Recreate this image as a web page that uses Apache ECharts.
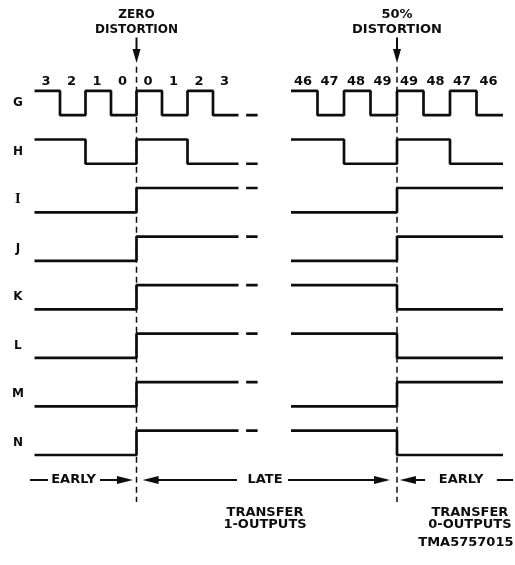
<!DOCTYPE html>
<html><head><meta charset="utf-8">
<script src="https://cdn.jsdelivr.net/npm/echarts@6/dist/echarts.min.js"></script>
<style>html,body{margin:0;padding:0;background:#fff}#c{width:515px;height:565px}</style>
</head><body><div id="c"></div>
<script>
// ---- data ----
const rowNames = ['G','H','I','J','K','L','M','N'];
const leftTicks = ['3','2','1','0','0','1','2','3'];
const rightTicks = ['46','47','48','49','49','48','47','46'];
// zero-distortion panel: logic level per time slot
const leftG = [1,0,1,0,1,0,1,0];
const leftH = [1,1,0,0,1,1,0,0];
const leftI = [0,0,0,0,1,1,1,1];
const leftJ = [0,0,0,0,1,1,1,1];
const leftK = [0,0,0,0,1,1,1,1];
const leftL = [0,0,0,0,1,1,1,1];
const leftM = [0,0,0,0,1,1,1,1];
const leftN = [0,0,0,0,1,1,1,1];
// 50% distortion panel
const rightG = [1,0,1,0,1,0,1,0];
const rightH = [1,1,0,0,1,1,0,0];
const rightI = [0,0,0,0,1,1,1,1];
const rightJ = [0,0,0,0,1,1,1,1];
const rightK = [1,1,1,1,0,0,0,0];
const rightL = [1,1,1,1,0,0,0,0];
const rightM = [0,0,0,0,1,1,1,1];
const rightN = [1,1,1,1,0,0,0,0];
const sampleSlot = 4;

const leftRows = [leftG,leftH,leftI,leftJ,leftK,leftL,leftM,leftN];
const rightRows = [rightG,rightH,rightI,rightJ,rightK,rightL,rightM,rightN];

// ---- layout / style ----
const INK = '#0d0d0d';
const FONT = 'DejaVu Sans';
const PXX_L = 25.5, PXX_R = 26.5, PXY = 24.27;
const rowBase = r => (7 - r) * 2;
const series = [];

function seg(grid, pts, width, type) {
  series.push({type:'line', xAxisIndex:grid, yAxisIndex:grid, data:pts, symbol:'none',
    silent:true, animation:false,
    lineStyle:{color:INK, width:width, type:type||'solid', opacity:1}});
}
function wave(levels, r, grid) {
  const b = rowBase(r);
  const d = levels.map((l,i)=>[i, b+l]);
  d.push([levels.length, b+levels[levels.length-1]]);
  series.push({type:'line', xAxisIndex:grid, yAxisIndex:grid, data:d, step:'end', symbol:'none',
    silent:true, animation:false, lineStyle:{color:INK, width:2.7, opacity:1}});
}
function head(grid, x, y, rot, w, h) {
  series.push({type:'scatter', xAxisIndex:grid, yAxisIndex:grid, data:[[x,y]], symbol:'triangle',
    symbolSize:[w,h], symbolRotate:rot, silent:true, animation:false,
    itemStyle:{color:INK, opacity:1}});
}
function texts(grid, items) {
  series.push({type:'scatter', xAxisIndex:grid, yAxisIndex:grid, silent:true, animation:false,
    symbolSize:1, itemStyle:{color:'#fff', opacity:1},
    data: items.map(t=>({value:[t[0],t[1]], name:t[2],
      label:{show:true, position:'inside', formatter:'{b}', color:INK, opacity:1, fontFamily:t[4]||FONT,
        fontWeight:'bold', fontSize:t[3]}}))});
}

// waveforms
leftRows.forEach((lv,r)=>{
  wave(lv, r, 0);
  const y = rowBase(r) + lv[lv.length-1];
  seg(0, [[8.3,y],[8.75,y]], 2.7);
});
rightRows.forEach((lv,r)=>wave(lv, r, 1));

// sample lines and top arrows
[0,1].forEach(g=>{
  seg(g, [[sampleSlot,16.0],[sampleSlot,-1.94]], 1.5, [6,4]);
  seg(g, [[sampleSlot,17.2],[sampleSlot,16.5]], 2);
  head(g, sampleSlot, 16.15 + 7/PXY, 180, 8, 14);
});

// bottom EARLY / LATE arrows
const ay = -1.03;
const HL = 16;
seg(0, [[-0.18,ay],[0.53,ay]], 2);
seg(0, [[2.57,ay],[3.5,ay]], 2);
head(0, 3.86 - (HL/2)/PXX_L, ay, -90, 8, HL);
head(0, 4.24 + (HL/2)/PXX_L, ay, 90, 8, HL);
seg(0, [[4.6,ay],[7.94,ay]], 2);
seg(0, [[9.94,ay],[13.6,ay]], 2);
head(0, 13.94 - (HL/2)/PXX_L, ay, -90, 8, HL);
head(1, 4.11 + (HL/2)/PXX_R, ay, 90, 8, HL);
seg(1, [[4.4,ay],[5.06,ay]], 2);
seg(1, [[7.77,ay],[8.38,ay]], 2);

// texts
const leftTexts = [
  [4, 18.13, 'ZERO', 12], [4, 17.51, 'DISTORTION', 12],
  [1.53, ay, 'EARLY', 13], [9.04, ay, 'LATE', 13],
  [9.04, -2.39, 'TRANSFER', 13], [9.04, -2.88, '1-OUTPUTS', 13]
];
leftTicks.forEach((t,i)=>leftTexts.push([i+0.45, 15.37, t, 13]));
rowNames.forEach((n,r)=>leftTexts.push([-0.65, rowBase(r)+0.5, n, 12, n==='I' ? 'DejaVu Serif' : FONT]));
texts(0, leftTexts);
const rightTexts = [
  [4, 18.13, '50%', 13], [4, 17.51, 'DISTORTION', 13],
  [6.42, ay, 'EARLY', 13],
  [6.75, -2.39, 'TRANSFER', 13], [6.75, -2.88, '0-OUTPUTS', 13],
  [6.6, -3.63, 'TMA5757015', 13]
];
rightTicks.forEach((t,i)=>rightTexts.push([i+0.45, 15.37, t, 13]));
texts(1, rightTexts);

const chart = echarts.init(document.getElementById('c'), null, {renderer:'canvas'});
const axisOff = {show:false, splitLine:{show:false}};
chart.setOption({
  backgroundColor:'#fff',
  animation:false,
  grid:[
    {left:9, width:19*PXX_L, top:6, bottom:0.8},
    {left:291-0.5*PXX_R, width:8.9*PXX_R, top:6, bottom:0.8}
  ],
  xAxis:[
    Object.assign({type:'value', gridIndex:0, min:-1, max:18}, axisOff),
    Object.assign({type:'value', gridIndex:1, min:-0.5, max:8.4}, axisOff)
  ],
  yAxis:[
    Object.assign({type:'value', gridIndex:0, min:-4.5, max:18.5}, axisOff),
    Object.assign({type:'value', gridIndex:1, min:-4.5, max:18.5}, axisOff)
  ],
  series: series
});
</script></body></html>
